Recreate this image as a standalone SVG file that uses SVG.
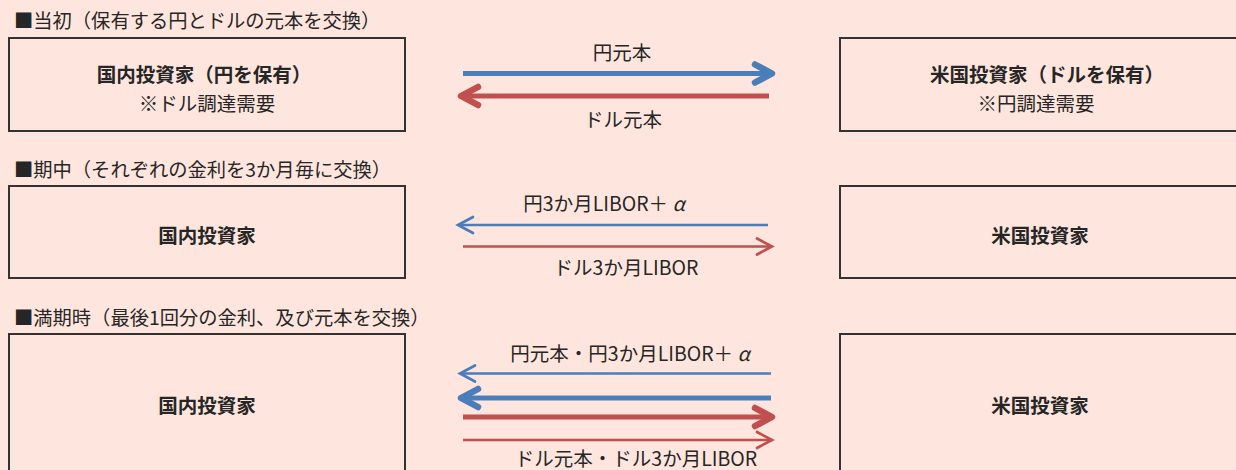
<svg xmlns="http://www.w3.org/2000/svg" width="1236" height="470" viewBox="0 0 1236 470">
<style>
text{font-family:"Noto Sans CJK JP","Noto Sans",sans-serif;fill:#262626;}
.title{font-size:19.3px;}
.name{font-size:19.5px;font-weight:bold;text-anchor:middle;}
.sub{font-size:19.5px;text-anchor:middle;}
.lbl{font-size:19.5px;text-anchor:middle;}
.box{fill:#FEE6DE;stroke:#333333;stroke-width:2;}
.bthick{stroke:#4A7EBB;stroke-width:5;fill:none;}
.rthick{stroke:#C0504D;stroke-width:5;fill:none;}
.bthin{stroke:#4A7EBB;stroke-width:2.7;fill:none;}
.rthin{stroke:#C0504D;stroke-width:2.7;fill:none;}
</style>
<defs>
<marker id="hbT" markerUnits="userSpaceOnUse" viewBox="-26 -16 32 32" markerWidth="32" markerHeight="32" refX="-2" refY="0" orient="auto" overflow="visible">
<path d="M-17,-9 L0,0 L-17,9" fill="none" stroke="#4A7EBB" stroke-width="6.5" stroke-linecap="round" stroke-linejoin="round"/>
</marker>
<marker id="hrT" markerUnits="userSpaceOnUse" viewBox="-26 -16 32 32" markerWidth="32" markerHeight="32" refX="-2" refY="0" orient="auto" overflow="visible">
<path d="M-17,-9 L0,0 L-17,9" fill="none" stroke="#C0504D" stroke-width="6.5" stroke-linecap="round" stroke-linejoin="round"/>
</marker>
<marker id="hbt" markerUnits="userSpaceOnUse" viewBox="-22 -12 26 24" markerWidth="26" markerHeight="24" refX="-1" refY="0" orient="auto" overflow="visible">
<path d="M-15,-8 L0,0 L-15,8" fill="none" stroke="#4A7EBB" stroke-width="2.7" stroke-linecap="round" stroke-linejoin="miter"/>
</marker>
<marker id="hrt" markerUnits="userSpaceOnUse" viewBox="-22 -12 26 24" markerWidth="26" markerHeight="24" refX="-1" refY="0" orient="auto" overflow="visible">
<path d="M-15,-8 L0,0 L-15,8" fill="none" stroke="#C0504D" stroke-width="2.7" stroke-linecap="round" stroke-linejoin="miter"/>
</marker>
</defs>
<rect x="0" y="0" width="1236" height="470" fill="#FEE6DE"/>

<g id="titles">
<text class="title" x="14" y="28">■当初（保有する円とドルの元本を交換）</text>
<text class="title" x="14" y="177">■期中（それぞれの金利を3か月毎に交換）</text>
<text class="title" x="14" y="325">■満期時（最後1回分の金利、及び元本を交換）</text>
</g>

<g id="jp1">
<rect class="box" x="9" y="38" width="396" height="93"/>
<text class="name" x="204" y="82">国内投資家（円を保有）</text>
<text class="sub" x="207" y="111">※ドル調達需要</text>
</g>
<g id="us1">
<rect class="box" x="840" y="38" width="398" height="93"/>
<text class="name" x="1047" y="82">米国投資家（ドルを保有）</text>
<text class="sub" x="1036" y="111">※円調達需要</text>
</g>

<g id="jp2">
<rect class="box" x="9" y="186" width="396" height="92"/>
<text class="name" x="207" y="243">国内投資家</text>
</g>
<g id="us2">
<rect class="box" x="840" y="186" width="398" height="92"/>
<text class="name" x="1040" y="243">米国投資家</text>
</g>

<g id="jp3">
<rect class="box" x="9" y="334" width="396" height="150"/>
<text class="name" x="207" y="413">国内投資家</text>
</g>
<g id="us3">
<rect class="box" x="840" y="334" width="398" height="150"/>
<text class="name" x="1040" y="413">米国投資家</text>
</g>

<g id="connectors">
<line class="bthick" x1="463" y1="73.5" x2="770" y2="73.5" marker-end="url(#hbT)"/>
<line class="rthick" x1="769" y1="96" x2="463" y2="96" marker-end="url(#hrT)"/>
<line class="bthin" x1="768" y1="225" x2="459" y2="225" marker-end="url(#hbt)"/>
<line class="rthin" x1="463" y1="246.5" x2="771" y2="246.5" marker-end="url(#hrt)"/>
<line class="bthin" x1="771" y1="373.5" x2="461" y2="373.5" marker-end="url(#hbt)"/>
<line class="bthick" x1="771" y1="398" x2="463" y2="398" marker-end="url(#hbT)"/>
<line class="rthick" x1="463" y1="417" x2="770" y2="417" marker-end="url(#hrT)"/>
<line class="rthin" x1="463" y1="440" x2="771" y2="440" marker-end="url(#hrt)"/>
</g>

<g id="labels">
<text class="lbl" x="622" y="60">円元本</text>
<text class="lbl" x="623" y="127">ドル元本</text>
<text class="lbl" x="604" y="211">円3か月LIBOR＋ <tspan font-style="italic">α</tspan></text>
<text class="lbl" x="626" y="275">ドル3か月LIBOR</text>
<text class="lbl" x="630" y="361">円元本・円3か月LIBOR＋ <tspan font-style="italic">α</tspan></text>
<text class="lbl" x="636" y="466">ドル元本・ドル3か月LIBOR</text>
</g>
</svg>
